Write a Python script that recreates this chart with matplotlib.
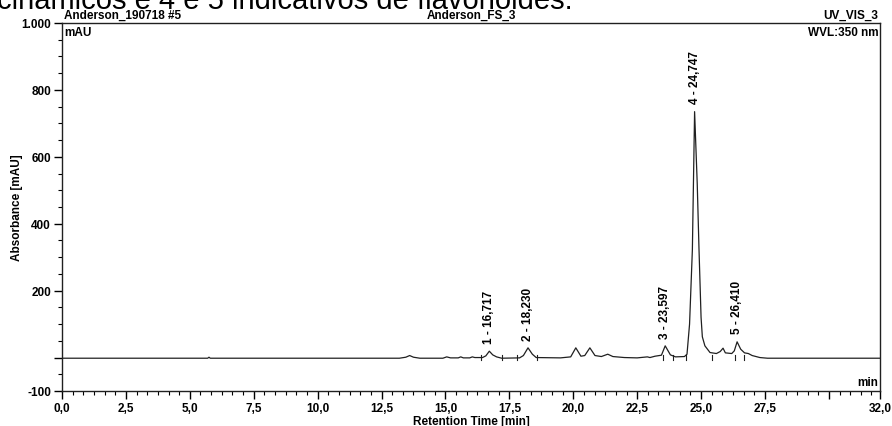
#! /usr/bin/env python3

import numpy as np
import matplotlib.pyplot as plt
from matplotlib.ticker import MultipleLocator, FixedLocator, FixedFormatter

plt.rcParams['font.family'] = ['Liberation Sans', 'DejaVu Sans']

# integrated peaks
peak_no = [1, 2, 3, 4, 5]
peak_rt = [16.717, 18.230, 23.597, 24.747, 26.410]
peak_height = [19, 29, 35, 735, 47]
peak_start = [16.39, 17.79, 23.50, 24.40, 26.32]
peak_end = [17.21, 18.60, 23.90, 25.42, 26.68]

# trace points (without the apexes of the integrated peaks)
trace_t = [0.0, 5.7, 5.75, 5.8, 13.2, 13.45, 13.6, 13.75, 14.0, 14.9, 15.05, 15.2,
           15.5, 15.6, 15.7, 15.95, 16.05, 16.15, 16.45, 16.58, 16.85, 17.0,
           17.2, 17.9, 18.05, 18.4, 18.55, 19.5, 19.9, 20.1, 20.3, 20.45,
           20.65, 20.85, 21.1, 21.35, 21.55, 22.0, 22.5, 22.9, 23.0, 23.2,
           23.45, 23.8, 24.0, 24.35, 24.45, 24.55, 24.66, 24.85, 24.92, 25.0,
           25.05, 25.15, 25.35, 25.6, 25.75, 25.86, 25.95, 26.2, 26.3, 26.55,
           26.7, 26.85, 27.0, 27.3, 27.6, 32.0]
trace_v = [-2, -2, 1, -2, -2, 1, 6, 1, -2, -2, 2, -1,
           -1, 2, -1, -1, 2, 0, 0, 5, 8, 2,
           -2, -1, 6, 10, 0, -1, 2, 29, 4, 6,
           29, 6, 3, 10, 3, 0, -1, 2, 0, 4,
           7, 8, 2, 3, 10, 100, 322, 520, 322, 120,
           62, 35, 15, 12, 18, 28, 14, 12, 20, 25,
           14, 12, 6, 0, -2, -2]

t = np.array(trace_t + peak_rt)
v = np.array(trace_v + peak_height)
order = np.argsort(t)
t, v = t[order], v[order]

fig = plt.figure(figsize=(8.92, 4.27), dpi=100)
ax = fig.add_axes([62/892, 1-392/427, 818/892, 368/427])

ax.plot(t, v, color='#202020', lw=0.9)

# peak delimiters
for s, e in zip(peak_start, peak_end):
    ax.plot([s, s], [-8, 8], color='#202020', lw=0.8)
    ax.plot([e, e], [-8, 8], color='#202020', lw=0.8)

# peak labels
for n, rt, h in zip(peak_no, peak_rt, peak_height):
    lab = '%d - %s' % (n, ('%.3f' % rt).replace('.', ','))
    ax.annotate(lab, (rt, h), xytext=(0, 6), textcoords='offset points',
                rotation=90, ha='center', va='bottom', fontsize=8.5, fontweight='bold')

ax.set_xlim(0, 32)
ax.set_ylim(-100, 1000)

xt = [0, 2.5, 5, 7.5, 10, 12.5, 15, 17.5, 20, 22.5, 25, 27.5, 30, 32]
xl = ['0,0', '2,5', '5,0', '7,5', '10,0', '12,5', '15,0', '17,5', '20,0', '22,5',
      '25,0', '27,5', '', '32,0']
ax.xaxis.set_major_locator(FixedLocator(xt))
ax.xaxis.set_major_formatter(FixedFormatter(xl))
ax.xaxis.set_minor_locator(MultipleLocator(2.5/6))

yt = [-100, 0, 200, 400, 600, 800, 1000]
yl = ['-100', '', '200', '400', '600', '800', '1.000']
ax.yaxis.set_major_locator(FixedLocator(yt))
ax.yaxis.set_major_formatter(FixedFormatter(yl))
ax.yaxis.set_minor_locator(MultipleLocator(50))

ax.tick_params(which='major', length=6, width=1, labelsize=8.5, pad=2)
ax.tick_params(which='minor', length=3, width=0.8)
for lb in ax.get_xticklabels() + ax.get_yticklabels():
    lb.set_fontweight('bold')
for sp in ax.spines.values():
    sp.set_linewidth(1)
    sp.set_color('#202020')

ax.set_xlabel('Retention Time [min]', fontsize=8.5, fontweight='bold', labelpad=1)
ax.set_ylabel('Absorbance [mAU]', fontsize=8.5, fontweight='bold', va='center')
ax.yaxis.set_label_coords(-0.055, 0.5)

ax.text(0.002, 1.005, 'Anderson_190718 #5', transform=ax.transAxes, fontsize=8.5,
        fontweight='bold', ha='left', va='bottom')
ax.text(0.5, 1.005, 'Anderson_FS_3', transform=ax.transAxes, fontsize=8.5,
        fontweight='bold', ha='center', va='bottom')
ax.text(0.998, 1.005, 'UV_VIS_3', transform=ax.transAxes, fontsize=8.5,
        fontweight='bold', ha='right', va='bottom')
ax.text(0.003, 0.993, 'mAU', transform=ax.transAxes, fontsize=8.5,
        fontweight='bold', ha='left', va='top')
ax.text(0.998, 0.993, 'WVL:350 nm', transform=ax.transAxes, fontsize=8.5,
        fontweight='bold', ha='right', va='top')
ax.text(0.998, 0.008, 'min', transform=ax.transAxes, fontsize=8.5,
        fontweight='bold', ha='right', va='bottom')

# running text of the page above the figure
fig.text(-0.003, 1 - 9/427, 'cinâmicos e 4 e 5 indicativos de flavonóides.',
         fontsize=21, ha='left', va='baseline')

fig.savefig('out.png', dpi=100)
